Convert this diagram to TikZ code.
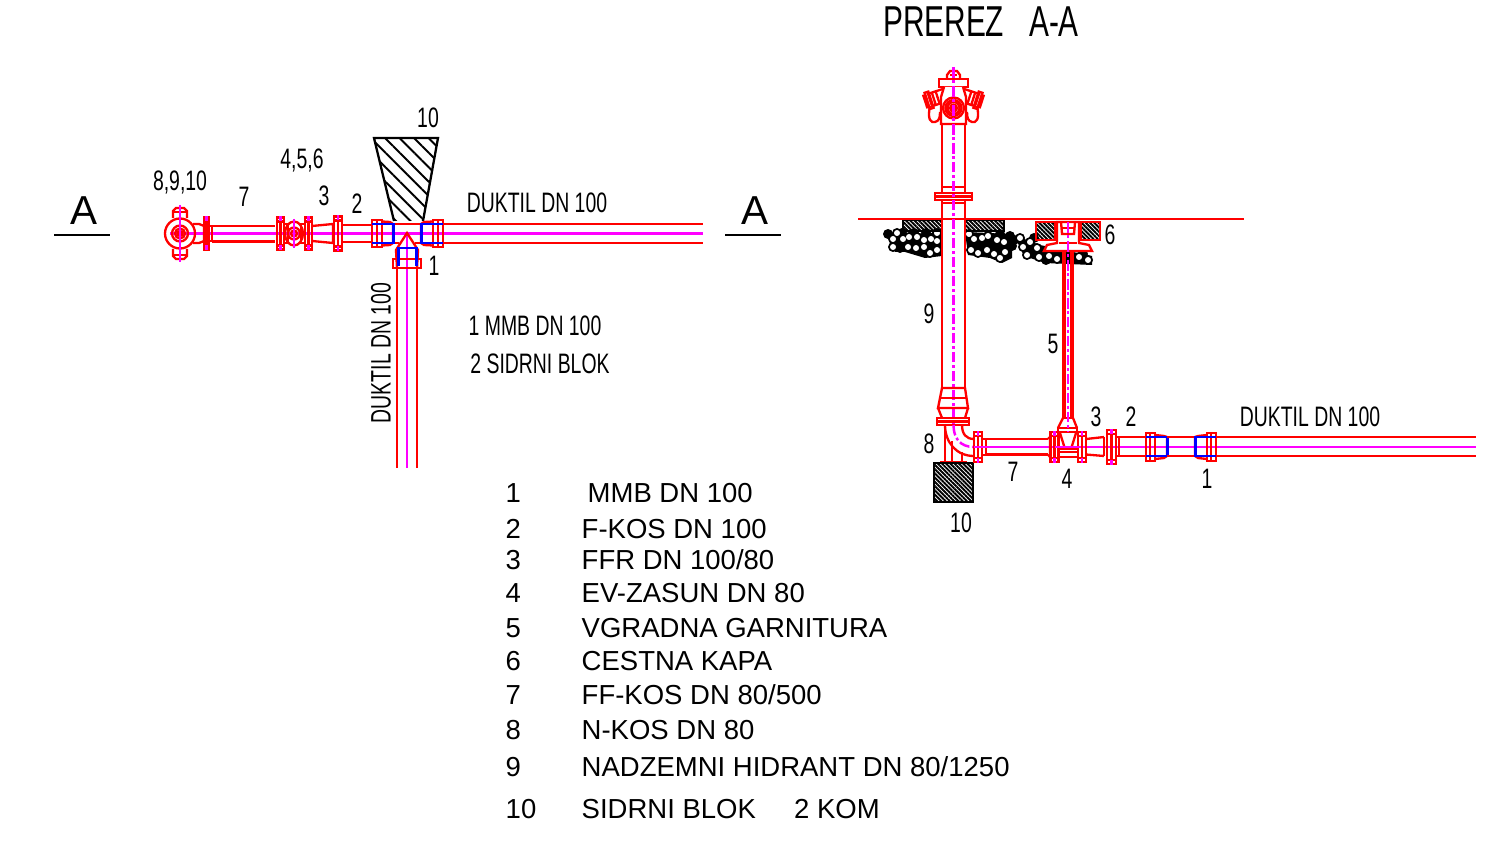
\documentclass[tikz,border=0pt]{standalone}
\usepackage{fontspec}
\setmainfont{Liberation Sans}
\newfontfamily\narrowfont[FakeStretch=0.69]{Liberation Sans}
\usetikzlibrary{patterns.meta}
\definecolor{pipered}{RGB}{255,0,0}
\definecolor{pipeaxis}{RGB}{255,0,255}
\definecolor{pipeseal}{RGB}{0,0,255}
\tikzset{
	redline/.style={draw=pipered, line width=0.66pt},
	axisline/.style={draw=pipeaxis, line width=0.8pt},
	axisdash/.style={draw=pipeaxis, line width=0.7pt, dash pattern=on 3pt off 0.8pt on 0.8pt off 0.8pt},
	sealline/.style={draw=pipeseal, line width=0.85pt},
	blackhatch/.style={pattern={Lines[angle=-45,distance=0.85pt,line width=0.55pt]}, pattern color=black},
	numtext/.style={font=\narrowfont\fontsize{8pt}{8pt}\selectfont, inner sep=0pt, text=black},
	listtext/.style={font=\fontsize{7.82pt}{8pt}\selectfont, inner sep=0pt, anchor=west, text=black}
}
% x, y centre, half width, half height
\newcommand{\flangepart}[4]{
	\draw[redline] (#1-#3,#2-#4) rectangle (#1+#3,#2+#4);
	\draw[redline] (#1,#2-#4) -- (#1,#2+#4);
	\draw[redline] (#1-#3,#2-#4+4) -- (#1+#3,#2-#4+4);
	\draw[redline] (#1-#3,#2+#4-4) -- (#1+#3,#2+#4-4);
	\draw[axisline] (#1,#2-#4-1) -- (#1,#2-#4+4);
	\draw[axisline] (#1,#2+#4-4) -- (#1,#2+#4+1);
}
\newcommand{\outletpart}{
	\draw[redline, fill=white] (0,-6.5) rectangle (17,6.5);
	\draw[redline] (4,-6.5) -- (4,6.5);
	\draw[redline] (8,-6.5) -- (8,6.5);
	\draw[redline] (-3,-8.5) rectangle (1,8.5);
	\draw[redline] (-5,-6) rectangle (-3,6);
}
\begin{document}
\begin{tikzpicture}[x=0.01cm, y=-0.01cm]
	\useasboundingbox (0,0) rectangle (1498,849);
	% plan
	\node[font=\fontsize{11.5pt}{11.5pt}\selectfont, inner sep=0pt] (planA1) at (84,211) {A};
	\node[font=\fontsize{11.5pt}{11.5pt}\selectfont, inner sep=0pt] (planA2) at (755,211) {A};
	\draw[black, line width=0.5pt] (54,235) -- (110,235);
	\draw[black, line width=0.5pt] (725,235) -- (781,235);
	\node[numtext] (wedgeno) at (428,118) {10};
	\node[numtext] (valveno) at (302,160) {4,5,6};
	\node[numtext] (hydrantno) at (180,182) {8,9,10};
	\node[numtext] (pipeno) at (244,197) {7};
	\node[numtext] (reducerno) at (324,196) {3};
	\node[numtext] (bendno) at (357,204) {2};
	\node[numtext] (teeno) at (434,266) {1};
	\node[numtext] (planpipe) at (537,203) {DUKTIL DN 100};
	\node[numtext, rotate=90] (planbranch) at (381,353) {DUKTIL DN 100};
	\node[numtext] (plannote1) at (535,326) {1 MMB DN 100};
	\node[numtext] (plannote2) at (540,364) {2 SIDRNI BLOK};
	\draw[black, line width=0.65pt, pattern={Lines[angle=-45,distance=2.9pt,line width=0.55pt]}, pattern color=black] (394,221) -- (374,138) -- (438,138) -- (423,221);
	% plan pipes
	\draw[redline] (443,224) -- (703,224);
	\draw[redline] (443,243) -- (703,243);
	\draw[axisline] (170,233.5) -- (703,233.5);
	\draw[redline] (397,268) -- (397,468);
	\draw[redline] (417,268) -- (417,468);
	\draw[axisline] (407,234) -- (407,468);
	\draw[redline] (180,233.5) circle (15);
	\draw[redline] (180,233.5) circle (8);
	\draw[redline] (180,233.5) circle (5);
	\draw[redline] (180,233.5) circle (2.5);
	\draw[redline] (173,218) -- (173,211) -- (176,208) -- (184,208) -- (187,211) -- (187,218);
	\draw[redline] (173,212) -- (187,212);
	\draw[redline] (173,249) -- (173,256) -- (176,259) -- (184,259) -- (187,256) -- (187,249);
	\draw[redline] (173,255) -- (187,255);
	\draw[axisline] (180,205) -- (180,262);
	\draw[redline] (193,224) -- (199,224) -- (204,226) -- (204,241) -- (199,243) -- (193,243);
	\flangepart{206.5}{233.5}{2.5}{16}
	\draw[redline] (209,226) rectangle (212,241);
	\draw[redline] (212,226) -- (275,226);
	\draw[redline] (212,241.5) -- (275,241.5);
	\flangepart{280.5}{233.5}{3.5}{16}
	\flangepart{308.5}{233.5}{3.5}{16}
	\draw[redline] (284,224) rectangle (288,243);
	\draw[redline] (301,224) rectangle (305,243);
	\draw[redline] (294,233.5) ellipse (9 and 12);
	\draw[redline] (294,233.5) circle (6);
	\draw[redline] (294,233.5) circle (3);
	\draw[axisline] (294,219) -- (294,248);
	\draw[redline] (312,226) -- (333,224) -- (333,243) -- (312,241);
	\flangepart{338}{233.5}{4}{17}
	\draw[redline] (342,225) -- (372,225);
	\draw[redline] (342,242) -- (372,242);
	\draw[redline] (393,224) -- (421,224);
	\draw[redline] (393,243) -- (399,243);
	\draw[redline] (421,243) -- (415,243);
	\draw[redline] (372,220) rectangle (382,247);
	\draw[redline] (382,221.5) -- (390,222) -- (393,224) -- (393,243) -- (390,245) -- (382,245.5);
	\draw[redline] (377,220) -- (377,247);
	\draw[sealline] (372,224) -- (393,224) -- (393,243) -- (372,243);
	\draw[redline] (433,220) rectangle (443,247);
	\draw[redline] (433,221.5) -- (424,222) -- (421,224) -- (421,243) -- (424,245) -- (433,245.5);
	\draw[redline] (438,220) -- (438,247);
	\draw[sealline] (443,224) -- (421,224) -- (421,243) -- (443,243);
	\draw[redline] (397,268) -- (396,250) -- (407,233) -- (418,250) -- (417,268);
	\draw[redline] (393,259) rectangle (421,268);
	\draw[sealline] (398,266) -- (398,248) -- (416,248) -- (416,266);
	% section text
	\node[font=\narrowfont\fontsize{12.3pt}{12.3pt}\selectfont, inner sep=0pt] (secttitle) at (981,22) {PREREZ\ \ \ A-A};
	\node[numtext] (sectcap) at (1110,235) {6};
	\node[numtext] (secthydrant) at (929,314) {9};
	\node[numtext] (sectgarn) at (1053,344) {5};
	\node[numtext] (sectreducer) at (1096,417) {3};
	\node[numtext] (sectbend) at (1131,417) {2};
	\node[numtext] (sectpipe) at (1310,417) {DUKTIL DN 100};
	\node[numtext] (sectelbow) at (929,444) {8};
	\node[numtext] (sectspool) at (1013,472) {7};
	\node[numtext] (sectvalve) at (1067,479) {4};
	\node[numtext] (secttee) at (1207,479) {1};
	\node[numtext] (sectblock) at (961,523) {10};
	% gravel
	\fill[black] (889,236) -- (942,232) -- (942,256) -- (925,258) -- (905,252) -- (895,252) -- cycle;
	\fill[black] (965,232) -- (1012,234) -- (1012,258) -- (1002,263) -- (990,258) -- (968,255) -- cycle;
	\fill[black] (1014,235) -- (1040,245) -- (1092,256) -- (1092,265) -- (1045,263) -- (1024,256) -- cycle;
	\foreach \gx/\gy in {893/239,897/233,903/239,909/237,917/237,924/240,931/239,937/233,937/241,893/247,908/247,916/248,924/247,930/253,937/250,900/248,888/234,902/233,914/233,926/233,969/234,974/239,982/238,988/236,997/240,1004/242,971/250,978/253,987/250,994/254,1000/258,1005/252,1000/234,1010/236,1014/240,1012/246,1020/238,1030/242,1023/247,1037/248,1027/255,1039/257,1049/256,1057/259,1079/257,1088/260,1064/259,1072/258,1083/254,1046/260,1034/238}
		\fill[black] (\gx,\gy) circle (5);
	\foreach \gx/\gy in {893/239,897/233,903/239,909/237,917/237,924/240,931/239,937/233,937/241,893/247,908/247,916/248,924/247,930/253,937/250,969/234,974/239,982/238,988/236,997/240,1004/242,971/250,978/253,987/250,994/254,1000/258,1005/252,1020/238,1030/242,1023/247,1037/248,1027/255,1039/257,1049/256,1057/259,1079/257,1088/260}
		\fill[white] (\gx,\gy) circle (3);
	% hatched strips and road cap
	\draw[black, blackhatch, line width=0.3pt] (903,220) rectangle (942,231);
	\draw[black, blackhatch, line width=0.3pt] (965,220) rectangle (1004,231);
	\draw[line width=0.8pt, draw=pipered, blackhatch] (1036,222) rectangle (1055,240);
	\draw[line width=0.8pt, draw=pipered, blackhatch] (1081,222) rectangle (1100,240);
	\draw[redline, fill=white] (1044,251) -- (1047,245) -- (1057,243) -- (1057,222) -- (1079,222) -- (1079,243) -- (1089,245) -- (1092,251) -- cycle;
	\draw[redline] (1061,222) -- (1062,234) -- (1074,234) -- (1075,222);
	\draw[redline] (1062,228) -- (1074,228);
	\draw[redline] (1059,243) -- (1077,243);
	\draw[draw=pipered, line width=0.8pt] (858,219) -- (1244,219);
	% hydrant
	\draw[redline] (947,79) -- (947,75) -- (950,71) -- (957,71) -- (960,75) -- (960,79);
	\draw[redline] (950,75) -- (957,75);
	\draw[redline] (939,79) rectangle (968,87);
	\begin{scope}[shift={(930,100)}, rotate=18]
		\outletpart
	\end{scope}
	\begin{scope}[shift={(977,100)}, rotate=-18, xscale=-1]
		\outletpart
	\end{scope}
	\draw[redline, fill=white] (944,87) -- (941,97) -- (941,124) -- (966,124) -- (966,97) -- (963,87);
	\draw[redline] (930,106) .. controls (927,120) and (931,123) .. (935,122) .. controls (939,121) and (940,118) .. (940,112);
	\draw[redline] (977,106) .. controls (980,120) and (976,123) .. (972,122) .. controls (968,121) and (967,118) .. (967,112);
	\draw[redline] (953.5,108) circle (10.5);
	\draw[redline] (953.5,108) circle (8);
	\draw[redline] (953.5,108) circle (6);
	\draw[redline, line width=0.9pt] (953.5,108) circle (3);
	\draw[redline] (942,124) -- (942,187);
	\draw[redline] (965,124) -- (965,187);
	\draw[redline] (942,187) rectangle (965,193);
	\draw[redline] (935,193) rectangle (972,200);
	\draw[redline] (935,196.5) -- (972,196.5);
	\draw[redline] (942,200) rectangle (965,203);
	\draw[redline] (942,203) -- (942,388);
	\draw[redline] (965,203) -- (965,388);
	\draw[axisdash] (953.5,67) -- (953.5,425);
	% hydrant foot and elbow
	\draw[redline] (942,388) -- (965,388) -- (968,408) -- (938,408) -- cycle;
	\draw[redline] (940,398) -- (967,398);
	\draw[redline] (938,408) -- (942,418);
	\draw[redline] (968,408) -- (965,418);
	\draw[redline] (937,418) rectangle (969,425);
	\draw[redline] (937,421.5) -- (969,421.5);
	\draw[redline] (945,425) -- (945,462);
	\draw[redline] (962,425) .. controls (962,434) and (966,439) .. (974,439);
	\draw[redline] (945,425) .. controls (945,442) and (956,456) .. (974,456);
	\draw[redline] (952,441) -- (952,462);
	\draw[redline] (962,452) -- (962,462);
	\draw[draw=pipered, line width=0.9pt] (940,462.5) -- (967,462.5);
	\draw[axisdash] (953.5,425) .. controls (953.5,438) and (960,447) .. (974,447);
	\draw[black, line width=0.5pt, blackhatch] (934,463) rectangle (973,502);
	% section pipe run
	\flangepart{978}{447}{4}{15}
	\draw[redline] (982,439) rectangle (986,455);
	\draw[redline] (986,439) -- (1048,439);
	\draw[redline] (986,454.5) -- (1048,454.5);
	\draw[axisline] (974,447) -- (1476,447);
	\draw[redline] (1048,439) -- (1050,437) -- (1050,457) -- (1048,454.5);
	\flangepart{1054.5}{447}{4}{15}
	\flangepart{1082}{447}{4}{15}
	\draw[redline] (1058,432) -- (1078,432);
	\draw[redline] (1058,449) rectangle (1078,457);
	\draw[redline] (1058,452) -- (1078,452);
	\draw[redline] (1060,433) -- (1065,449);
	\draw[redline] (1076,433) -- (1071,449);
	\draw[axisline] (1055,447) -- (1080,447);
	\draw[redline] (1058,428) rectangle (1077,432);
	\draw[redline] (1058,428) -- (1063,418);
	\draw[redline] (1077,428) -- (1073,418);
	\draw[redline] (1063,251) -- (1063,418);
	\draw[redline] (1073,251) -- (1073,418);
	\draw[redline] (1065,251) -- (1065,418);
	\draw[redline] (1071,251) -- (1071,418);
	\draw[redline] (1063,418) -- (1073,418);
	\draw[axisdash] (1068,222) -- (1068,432);
	\draw[redline] (1086,439) -- (1104,437);
	\draw[redline] (1086,454.5) -- (1104,456);
	\draw[redline] (1086,439) -- (1086,454.5);
	\draw[redline] (1104,437) -- (1104,456);
	\flangepart{1111.5}{447}{4.5}{17}
	\draw[redline] (1116,437) rectangle (1119,456);
	\draw[redline] (1119,437) -- (1146,437);
	\draw[redline] (1119,456) -- (1146,456);
	\draw[redline] (1146,433) rectangle (1155,461);
	\draw[redline] (1150,433) -- (1150,461);
	\draw[redline] (1155,435) -- (1164,436) -- (1167,437) -- (1167,456) -- (1164,458) -- (1155,459);
	\draw[sealline] (1146,437) -- (1167,437) -- (1167,456) -- (1146,456);
	\draw[redline] (1167,437) -- (1195,437);
	\draw[redline] (1167,456) -- (1195,456);
	\draw[redline] (1207,433) rectangle (1216,461);
	\draw[redline] (1211,433) -- (1211,461);
	\draw[redline] (1207,435) -- (1198,436) -- (1195,437) -- (1195,456) -- (1198,458) -- (1207,459);
	\draw[sealline] (1216,437) -- (1195,437) -- (1195,456) -- (1216,456);
	\draw[redline] (1216,437) -- (1476,437);
	\draw[redline] (1216,456) -- (1476,456);
	% parts list
	\node[listtext] (num1) at (505,493) {1};
	\node[listtext] (item1) at (587,493) {MMB DN 100};
	\node[listtext] (num2) at (505,529) {2};
	\node[listtext] (item2) at (581,529) {F-KOS DN 100};
	\node[listtext] (num3) at (505,560) {3};
	\node[listtext] (item3) at (581,560) {FFR DN 100/80};
	\node[listtext] (num4) at (505,593) {4};
	\node[listtext] (item4) at (581,593) {EV-ZASUN DN 80};
	\node[listtext] (num5) at (505,628) {5};
	\node[listtext] (item5) at (581,628) {VGRADNA GARNITURA};
	\node[listtext] (num6) at (505,661) {6};
	\node[listtext] (item6) at (581,661) {CESTNA KAPA};
	\node[listtext] (num7) at (505,695) {7};
	\node[listtext] (item7) at (581,695) {FF-KOS DN 80/500};
	\node[listtext] (num8) at (505,730) {8};
	\node[listtext] (item8) at (581,730) {N-KOS DN 80};
	\node[listtext] (num9) at (505,767) {9};
	\node[listtext] (item9) at (581,767) {NADZEMNI HIDRANT DN 80/1250};
	\node[listtext] (num10) at (505,809) {10};
	\node[listtext] (item10) at (581,809) {SIDRNI BLOK\ \ \ \ \ 2 KOM};
\end{tikzpicture}
\end{document}
